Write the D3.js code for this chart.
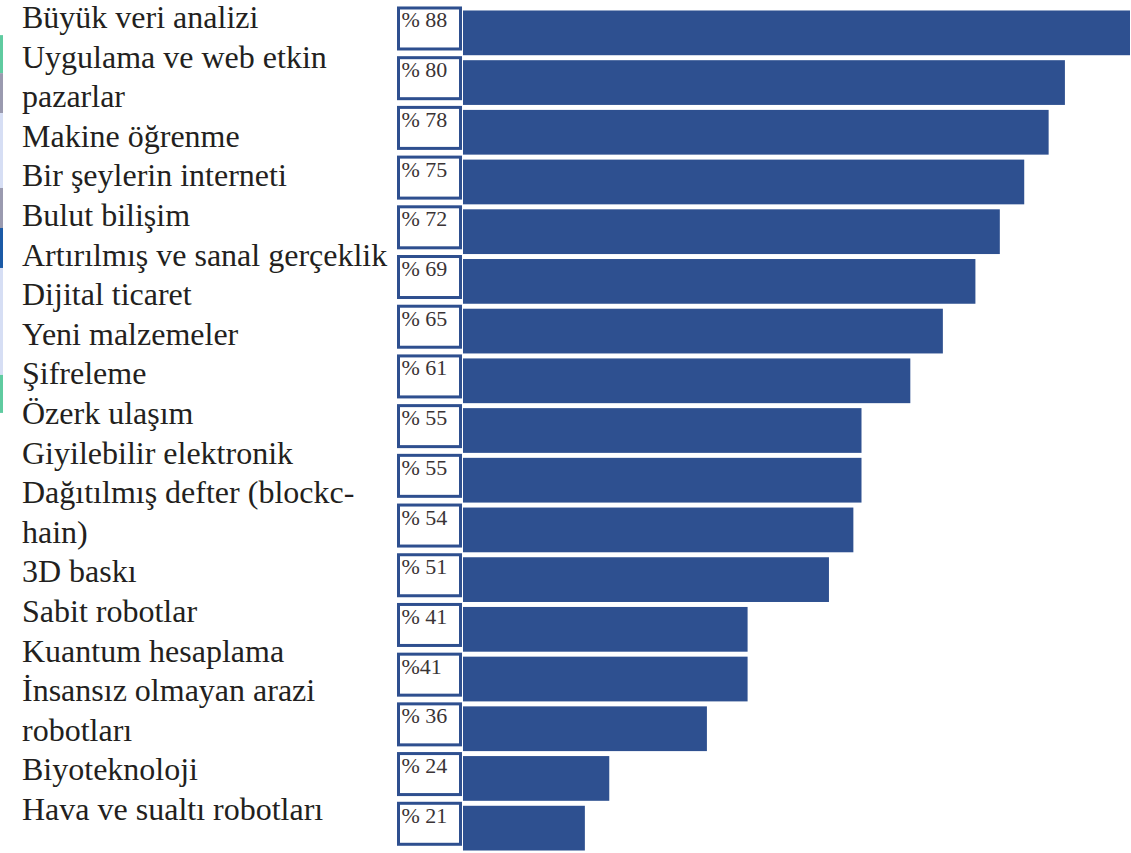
<!DOCTYPE html>
<html>
<head>
<meta charset="utf-8">
<script src="https://cdn.jsdelivr.net/npm/d3@7"></script>
<style>
  body { margin: 0; background: #fff; }
  svg { display: block; }
  .label { font-family: "Liberation Serif", "DejaVu Serif", serif; font-size: 32px; fill: #231f20; }
  .val { font-family: "Liberation Serif", "DejaVu Serif", serif; font-size: 22px; fill: #3a3436; }
  .bar { fill: #2e5090; }
  .box { fill: #fff; stroke: #2e4f8f; stroke-width: 3; }
</style>
</head>
<body>
<div id="chart"></div>
<script>
// one entry per bar; "\n" marks where the printed label wraps
var categories = [
  "Büyük veri analizi",
  "Uygulama ve web etkin\npazarlar",
  "Makine öğrenme",
  "Bir şeylerin interneti",
  "Bulut bilişim",
  "Artırılmış ve sanal gerçeklik",
  "Dijital ticaret",
  "Yeni malzemeler",
  "Şifreleme",
  "Özerk ulaşım",
  "Giyilebilir elektronik",
  "Dağıtılmış defter (blockc-\nhain)",
  "3D baskı",
  "Sabit robotlar",
  "Kuantum hesaplama",
  "İnsansız olmayan arazi\nrobotları",
  "Biyoteknoloji",
  "Hava ve sualtı robotları"
];
var values = [88, 80, 78, 75, 72, 69, 65, 61, 55, 55, 54, 51, 41, 41, 36, 24, 21];
var valueLabels = ["% 88", "% 80", "% 78", "% 75", "% 72", "% 69", "% 65", "% 61", "% 55",
  "% 55", "% 54", "% 51", "% 41", "%41", "% 36", "% 24", "% 21"];

// thin coloured strip on the left edge, spans in text-line units
var stripColors = ["#5fcba0", "#9a9aaf", "#d6def4", "#9a9aaf", "#1b5aa6", "#d6def4", "#5fcba0"];
var stripStops = [0.18, 1.14, 2.15, 4.04, 5.05, 6.06, 8.76, 9.72];

var width = 1131;
var height = 853;

var svg = d3.select( "#chart" ).append( "svg" )
  .attr( "width", width )
  .attr( "height", height );

// labels on the left run as one text column, 21 lines
var lines = [];
categories.forEach( function ( c ) {
  c.split( "\n" ).forEach( function ( l ) { lines.push( l ); } );
} );

var lineY = d3.scaleLinear()
  .domain( [0, lines.length - 1] )
  .range( [28, 820] );

svg.selectAll( ".strip" )
  .data( stripColors )
  .enter().append( "rect" )
  .attr( "class", "strip" )
  .attr( "x", 0 )
  .attr( "width", 3 )
  .attr( "y", function ( d, i ) { return lineY( stripStops[i] ); } )
  .attr( "height", function ( d, i ) { return lineY( stripStops[i + 1] ) - lineY( stripStops[i] ); } )
  .style( "fill", function ( d ) { return d; } );

svg.selectAll( ".label" )
  .data( lines )
  .enter().append( "text" )
  .attr( "class", "label" )
  .attr( "x", 22 )
  .attr( "y", function ( d, i ) { return lineY( i ); } )
  .text( function ( d ) { return d; } );

// bars
var barLeft = 463;
var x = d3.scaleLinear()
  .domain( [0, 88] )
  .range( [414, 1130] );

var y = d3.scaleBand()
  .domain( d3.range( values.length ) )
  .range( [8, 853] )
  .paddingInner( 0.1 )
  .paddingOuter( 0.05 );

svg.selectAll( ".bar" )
  .data( values )
  .enter().append( "rect" )
  .attr( "class", "bar" )
  .attr( "x", barLeft )
  .attr( "y", function ( d, i ) { return y( i ); } )
  .attr( "width", function ( d ) { return x( d ) - barLeft; } )
  .attr( "height", y.bandwidth() );

// value boxes sit just left of each bar, slightly raised
var box = svg.selectAll( ".vbox" )
  .data( valueLabels )
  .enter().append( "g" )
  .attr( "class", "vbox" )
  .attr( "transform", function ( d, i ) { return "translate(397," + ( y( i ) - 4 ) + ")"; } );

box.append( "rect" )
  .attr( "class", "box" )
  .attr( "x", 1.5 )
  .attr( "y", 1.5 )
  .attr( "width", 62 )
  .attr( "height", 41 );

box.append( "text" )
  .attr( "class", "val" )
  .attr( "x", 4.5 )
  .attr( "y", 21 )
  .text( function ( d ) { return d; } );
</script>
</body>
</html>
